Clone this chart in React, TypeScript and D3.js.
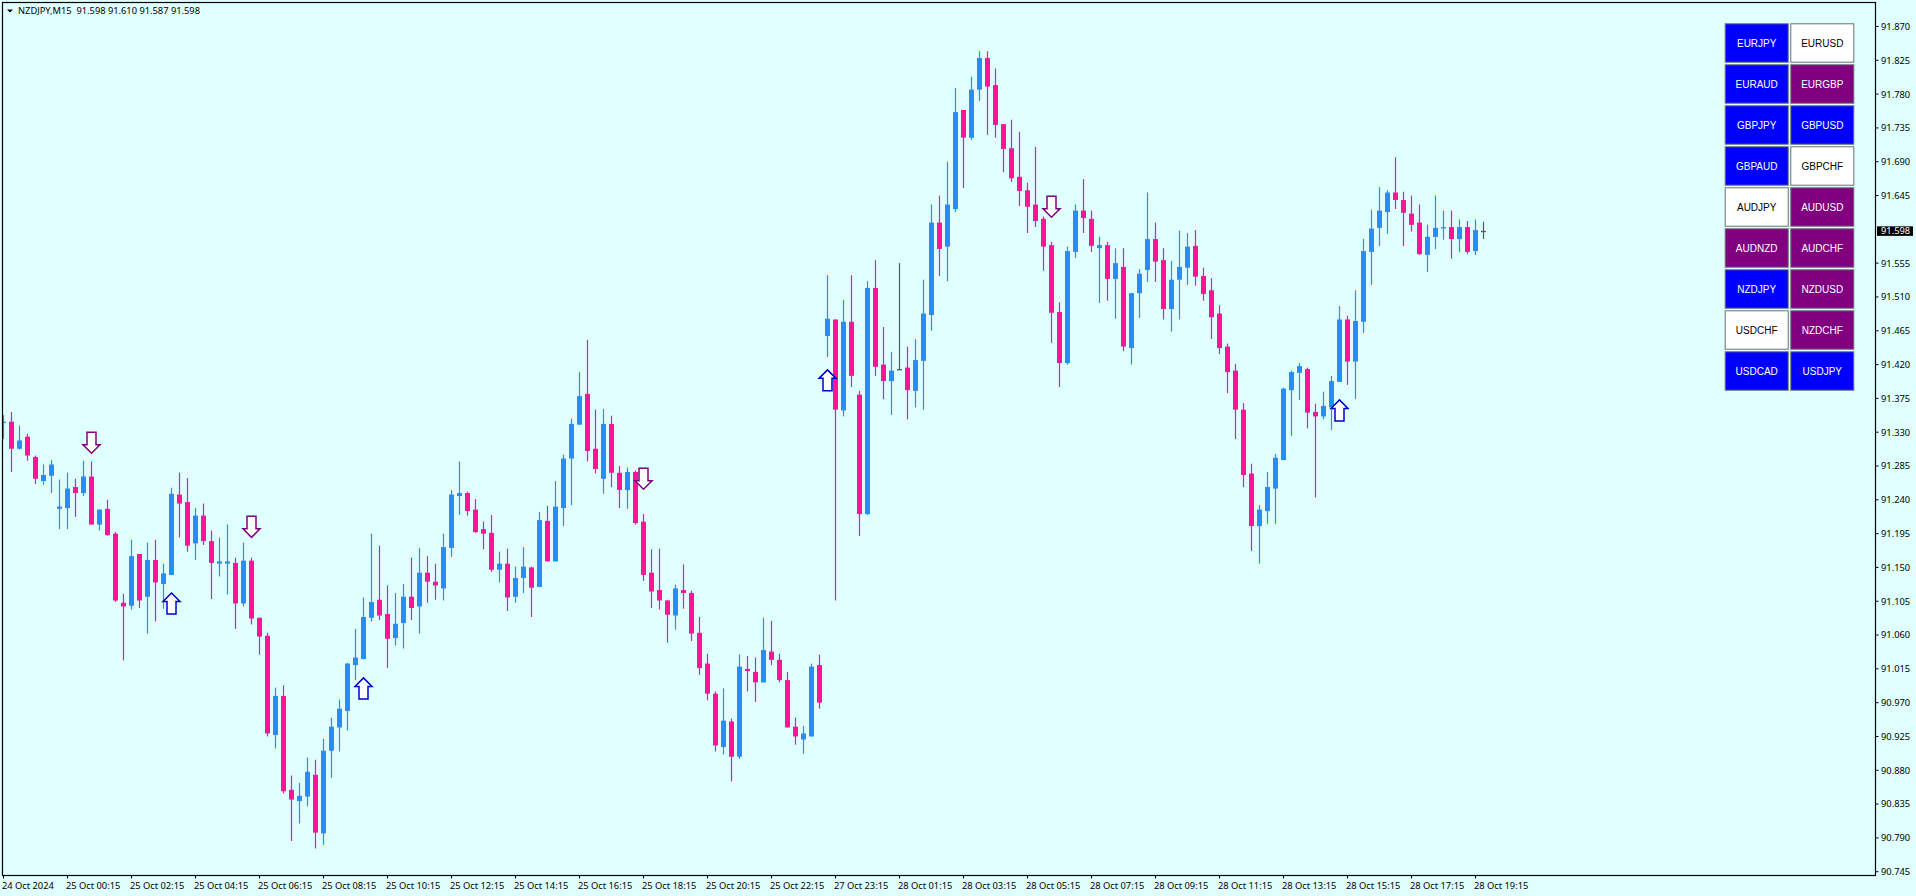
import * as d3 from "d3";

const opens = [
  91.343, 91.344, 91.308, 91.324, 91.297, 91.265, 91.272, 91.228, 91.229, 91.257,
  91.249, 91.271, 91.207, 91.228, 91.195, 91.103, 91.099, 91.168, 91.111, 91.160,
  91.128, 91.140, 91.247, 91.237, 91.182, 91.219, 91.185, 91.155, 91.155, 91.156,
  91.102, 91.159, 91.083, 91.059, 90.927, 90.979, 90.854, 90.839, 90.845, 90.874,
  90.796, 90.906, 90.937, 90.959, 91.020, 91.028, 91.083, 91.107, 91.088, 91.056,
  91.076, 91.111, 91.098, 91.143, 91.131, 91.122, 91.176, 91.245, 91.249, 91.227,
  91.201, 91.196, 91.147, 91.155, 91.111, 91.136, 91.150, 91.124, 91.212, 91.158,
  91.229, 91.295, 91.340, 91.381, 91.308, 91.268, 91.341, 91.276, 91.253, 91.277,
  91.211, 91.143, 91.120, 91.106, 91.086, 91.120, 91.116, 91.063, 91.022, 90.982,
  90.911, 90.945, 90.898, 91.015, 91.011, 90.997, 91.038, 91.027, 91.000, 90.938,
  90.921, 90.925, 91.020, 91.458, 91.480, 91.359, 91.477, 91.380, 91.221, 91.522,
  91.420, 91.398, 91.414, 91.416, 91.385, 91.425, 91.486, 91.609, 91.577, 91.627,
  91.759, 91.722, 91.786, 91.828, 91.792, 91.740, 91.708, 91.670, 91.652, 91.633,
  91.614, 91.579, 91.490, 91.422, 91.570, 91.625, 91.614, 91.575, 91.579, 91.534,
  91.550, 91.442, 91.515, 91.546, 91.587, 91.559, 91.494, 91.533, 91.549, 91.578,
  91.538, 91.519, 91.488, 91.444, 91.412, 91.360, 91.275, 91.205, 91.225, 91.255,
  91.293, 91.386, 91.409, 91.414, 91.357, 91.351, 91.363, 91.397, 91.480, 91.424,
  91.477, 91.570, 91.602, 91.623, 91.649, 91.639, 91.621, 91.609, 91.566, 91.590,
  91.602, 91.603, 91.587, 91.603, 91.571, 91.598,
];

const highs = [
  91.353, 91.357, 91.339, 91.328, 91.299, 91.287, 91.293, 91.267, 91.276, 91.268,
  91.292, 91.291, 91.227, 91.240, 91.197, 91.115, 91.187, 91.168, 91.183, 91.187,
  91.155, 91.256, 91.276, 91.269, 91.229, 91.235, 91.199, 91.190, 91.207, 91.163,
  91.183, 91.163, 91.083, 91.063, 90.990, 90.993, 90.873, 90.863, 90.897, 90.894,
  90.922, 90.950, 90.974, 91.023, 91.068, 91.110, 91.195, 91.179, 91.126, 91.116,
  91.128, 91.163, 91.176, 91.165, 91.155, 91.195, 91.253, 91.291, 91.251, 91.241,
  91.211, 91.220, 91.171, 91.175, 91.151, 91.177, 91.151, 91.224, 91.232, 91.265,
  91.300, 91.348, 91.410, 91.453, 91.360, 91.361, 91.352, 91.285, 91.283, 91.279,
  91.221, 91.174, 91.175, 91.107, 91.127, 91.154, 91.119, 91.084, 91.035, 90.985,
  90.989, 90.949, 91.034, 91.032, 91.030, 91.083, 91.079, 91.035, 91.011, 90.950,
  90.939, 91.022, 91.034, 91.539, 91.480, 91.506, 91.539, 91.385, 91.531, 91.559,
  91.470, 91.437, 91.555, 91.444, 91.454, 91.533, 91.633, 91.645, 91.690, 91.788,
  91.759, 91.803, 91.837, 91.837, 91.814, 91.740, 91.746, 91.730, 91.662, 91.710,
  91.617, 91.583, 91.503, 91.577, 91.633, 91.667, 91.625, 91.590, 91.583, 91.575,
  91.575, 91.515, 91.547, 91.649, 91.609, 91.575, 91.558, 91.598, 91.595, 91.599,
  91.549, 91.535, 91.499, 91.448, 91.421, 91.369, 91.288, 91.233, 91.277, 91.301,
  91.389, 91.412, 91.422, 91.416, 91.368, 91.384, 91.405, 91.498, 91.485, 91.519,
  91.587, 91.626, 91.656, 91.652, 91.696, 91.650, 91.645, 91.633, 91.606, 91.645,
  91.625, 91.625, 91.613, 91.611, 91.613, 91.610,
];

const lows = [
  91.321, 91.277, 91.307, 91.292, 91.261, 91.260, 91.249, 91.201, 91.201, 91.217,
  91.245, 91.207, 91.199, 91.192, 91.104, 91.026, 91.094, 91.096, 91.062, 91.078,
  91.095, 91.140, 91.190, 91.171, 91.160, 91.180, 91.108, 91.138, 91.114, 91.068,
  91.098, 91.074, 91.034, 90.925, 90.909, 90.849, 90.786, 90.809, 90.832, 90.776,
  90.781, 90.870, 90.905, 90.933, 91.000, 91.028, 91.078, 91.080, 91.016, 91.046,
  91.042, 91.080, 91.062, 91.103, 91.107, 91.106, 91.164, 91.220, 91.219, 91.196,
  91.174, 91.144, 91.130, 91.092, 91.103, 91.116, 91.084, 91.124, 91.158, 91.158,
  91.205, 91.233, 91.340, 91.291, 91.275, 91.248, 91.257, 91.229, 91.228, 91.207,
  91.132, 91.096, 91.094, 91.050, 91.067, 91.095, 91.052, 91.007, 90.973, 90.905,
  90.901, 90.865, 90.895, 90.985, 90.971, 90.997, 91.020, 90.997, 90.937, 90.914,
  90.902, 90.925, 90.962, 91.430, 91.106, 91.351, 91.390, 91.192, 91.220, 91.405,
  91.374, 91.353, 91.413, 91.347, 91.363, 91.360, 91.465, 91.538, 91.531, 91.623,
  91.655, 91.719, 91.771, 91.726, 91.722, 91.676, 91.663, 91.631, 91.595, 91.603,
  91.545, 91.449, 91.390, 91.420, 91.562, 91.595, 91.570, 91.502, 91.505, 91.481,
  91.438, 91.420, 91.482, 91.530, 91.530, 91.480, 91.464, 91.480, 91.526, 91.525,
  91.505, 91.454, 91.434, 91.382, 91.321, 91.257, 91.172, 91.155, 91.208, 91.208,
  91.293, 91.325, 91.373, 91.335, 91.243, 91.347, 91.333, 91.397, 91.393, 91.374,
  91.462, 91.526, 91.578, 91.594, 91.627, 91.578, 91.597, 91.566, 91.543, 91.574,
  91.586, 91.561, 91.570, 91.567, 91.566, 91.587,
];

const closes = [
  91.344, 91.308, 91.319, 91.299, 91.268, 91.273, 91.287, 91.231, 91.255, 91.249,
  91.271, 91.207, 91.227, 91.193, 91.106, 91.098, 91.165, 91.106, 91.160, 91.130,
  91.142, 91.248, 91.235, 91.179, 91.219, 91.185, 91.156, 91.158, 91.158, 91.102,
  91.159, 91.082, 91.058, 90.929, 90.979, 90.852, 90.841, 90.846, 90.878, 90.797,
  90.906, 90.938, 90.962, 91.022, 91.030, 91.084, 91.104, 91.086, 91.055, 91.075,
  91.111, 91.096, 91.143, 91.131, 91.126, 91.177, 91.247, 91.249, 91.225, 91.197,
  91.195, 91.147, 91.155, 91.110, 91.136, 91.151, 91.123, 91.213, 91.158, 91.231,
  91.295, 91.341, 91.378, 91.305, 91.281, 91.341, 91.276, 91.253, 91.277, 91.209,
  91.140, 91.118, 91.106, 91.087, 91.122, 91.116, 91.062, 91.016, 90.982, 90.913,
  90.946, 90.898, 91.018, 91.012, 90.997, 91.040, 91.027, 91.000, 90.937, 90.925,
  90.929, 91.018, 90.970, 91.481, 91.360, 91.477, 91.405, 91.221, 91.522, 91.417,
  91.398, 91.412, 91.414, 91.386, 91.426, 91.488, 91.609, 91.574, 91.633, 91.756,
  91.722, 91.786, 91.828, 91.790, 91.739, 91.707, 91.668, 91.651, 91.630, 91.611,
  91.577, 91.489, 91.422, 91.571, 91.625, 91.615, 91.578, 91.579, 91.534, 91.555,
  91.444, 91.515, 91.541, 91.587, 91.557, 91.494, 91.533, 91.550, 91.577, 91.537,
  91.514, 91.483, 91.442, 91.410, 91.360, 91.273, 91.205, 91.227, 91.257, 91.296,
  91.388, 91.410, 91.418, 91.356, 91.351, 91.365, 91.398, 91.480, 91.424, 91.478,
  91.571, 91.601, 91.625, 91.649, 91.639, 91.622, 91.606, 91.567, 91.590, 91.602,
  91.603, 91.587, 91.603, 91.570, 91.599, 91.598,
];

const timeLabels = [
  "24 Oct 2024", "25 Oct 00:15", "25 Oct 02:15", "25 Oct 04:15", "25 Oct 06:15", "25 Oct 08:15",
  "25 Oct 10:15", "25 Oct 12:15", "25 Oct 14:15", "25 Oct 16:15", "25 Oct 18:15", "25 Oct 20:15",
  "25 Oct 22:15", "27 Oct 23:15", "28 Oct 01:15", "28 Oct 03:15", "28 Oct 05:15", "28 Oct 07:15",
  "28 Oct 09:15", "28 Oct 11:15", "28 Oct 13:15", "28 Oct 15:15", "28 Oct 17:15", "28 Oct 19:15",
];
const barsPerLabel = 8;

const priceTicks = [
  91.870, 91.825, 91.780, 91.735, 91.690, 91.645, 91.555, 91.510, 91.465, 91.420, 91.375, 91.330, 91.285,
  91.240, 91.195, 91.150, 91.105, 91.060, 91.015, 90.970, 90.925, 90.880, 90.835, 90.790, 90.745,
];
const lastPrice = 91.598;

// signal arrows: bar index + price at arrow centre
const downBars = [11, 31, 80, 131];
const downPrices = [91.316, 91.204, 91.268, 91.630];
const upBars = [21, 45, 103, 167];
const upPrices = [91.102, 90.989, 91.399, 91.359];

const pairsLeft = ["EURJPY", "EURAUD", "GBPJPY", "GBPAUD", "AUDJPY", "AUDNZD", "NZDJPY", "USDCHF", "USDCAD"];
const pairsRight = ["EURUSD", "EURGBP", "GBPUSD", "GBPCHF", "AUDUSD", "AUDCHF", "NZDUSD", "NZDCHF", "USDJPY"];
const stateLeft = ["buy", "buy", "buy", "buy", "none", "sell", "buy", "none", "buy"];
const stateRight = ["none", "sell", "buy", "none", "sell", "sell", "sell", "sell", "buy"];

const W = 1916;
const H = 896;
const frame = { left: 2.5, top: 2.5, right: 1875.5, bottom: 875.5 };

const UP = "#1E90FF";
const DOWN = "#FF1493";
const DOJI = "#4d5a62";
const stateColor: Record<string, string> = { buy: "#0000FF", sell: "#800080", none: "#FFFFFF" };

const x = d3.scaleLinear().domain([0, opens.length - 1]).range([3.5, 1483.5]);
const y = d3.scaleLinear().domain([90.745, 91.87]).range([871.7, 26.5]);

const arrowShape: [number, number][] = [
  [-4.5, -10.5], [4.5, -10.5], [4.5, 2], [8.5, 2], [0, 10.5], [-8.5, 2], [-4.5, 2],
];
const arrowLine = d3.line().curve(d3.curveLinearClosed);

function Arrow({ bar, price, dir }: { bar: number; price: number; dir: number }) {
  const pts = arrowShape.map(([dx, dy]) => [x(bar) + dx, y(price) + dy * dir] as [number, number]);
  return (
    <path
      d={arrowLine(pts) || ""}
      fill="#FFFFFF"
      stroke={dir > 0 ? "#800080" : "#0000CC"}
      strokeWidth={1.5}
    />
  );
}

function App() {
  const axisFont = "'Noto Sans', sans-serif";
  const axisSize = 9.3;
  const bw = 63;
  const bh = 38.4;
  return (
    <svg
      width={W}
      height={H}
      viewBox={`0 0 ${W} ${H}`}
      style={{ position: "absolute", left: 0, top: 0, background: "#E0FFFF" }}
    >
      <defs>
        <clipPath id="plot">
          <rect x={frame.left} y={frame.top} width={frame.right - frame.left} height={frame.bottom - frame.top} />
        </clipPath>
      </defs>
      <rect width={W} height={H} fill="#E0FFFF" />

      <g clipPath="url(#plot)">
        {opens.map((o, i) => {
          const c = closes[i];
          const color = o === c ? DOJI : c > o ? UP : DOWN;
          const top = y(Math.max(o, c));
          const bottom = y(Math.min(o, c));
          return (
            <g key={i}>
              <line x1={x(i)} x2={x(i)} y1={y(highs[i])} y2={y(lows[i])} stroke={color} strokeWidth={1.2} />
              <rect x={x(i) - 2.5} y={top} width={5} height={Math.max(bottom - top, 1.3)} fill={color} />
            </g>
          );
        })}
        {downBars.map((b, i) => (
          <Arrow key={"d" + i} bar={b} price={downPrices[i]} dir={1} />
        ))}
        {upBars.map((b, i) => (
          <Arrow key={"u" + i} bar={b} price={upPrices[i]} dir={-1} />
        ))}
      </g>

      <rect
        x={frame.left}
        y={frame.top}
        width={frame.right - frame.left}
        height={frame.bottom - frame.top}
        fill="none"
        stroke="#000"
        strokeWidth={1.2}
      />

      {/* price axis */}
      {priceTicks.map((p) => (
        <g key={p}>
          <line x1={frame.right} x2={frame.right + 3} y1={y(p)} y2={y(p)} stroke="#000" />
          <text x={1881} y={y(p) + 3.4} fontSize={axisSize} fontFamily={axisFont} fill="#000">
            {p.toFixed(3)}
          </text>
        </g>
      ))}
      <rect x={1877} y={y(lastPrice) - 4.5} width={36} height={9.5} fill="#000" />
      <text x={1881} y={y(lastPrice) + 3.4} fontSize={axisSize} fontFamily={axisFont} fill="#fff">
        {lastPrice.toFixed(3)}
      </text>

      {/* time axis */}
      {timeLabels.map((t, i) => (
        <g key={t}>
          <line
            x1={x(i * barsPerLabel)}
            x2={x(i * barsPerLabel)}
            y1={frame.bottom}
            y2={frame.bottom + 3}
            stroke="#000"
          />
          <text x={x(i * barsPerLabel) - 1.5} y={888.5} fontSize={axisSize} fontFamily={axisFont} fill="#000">
            {t}
          </text>
        </g>
      ))}

      {/* header */}
      <path d="M7 9.5 L13 9.5 L10 12.5 Z" fill="#000" />
      <text x={18} y={14} fontSize={axisSize} fontFamily={axisFont} fill="#000" xmlSpace="preserve">
        {"NZDJPY,M15  91.598 91.610 91.587 91.598"}
      </text>

      {/* pair buttons */}
      {[pairsLeft, pairsRight].map((col, ci) =>
        col.map((name, ri) => {
          const state = (ci === 0 ? stateLeft : stateRight)[ri];
          const bx = 1725.2 + ci * 65.6;
          const by = 23.8 + ri * 41;
          return (
            <g key={name}>
              <rect x={bx} y={by} width={bw} height={bh} fill={stateColor[state]} stroke="#6e6e6e" strokeWidth={1} />
              <text
                x={bx + bw / 2}
                y={by + bh / 2 + 3.6}
                textAnchor="middle"
                fontSize={10}
                fontFamily="'Liberation Sans', Arial, sans-serif"
                fill={state === "none" ? "#000" : "#fff"}
              >
                {name}
              </text>
            </g>
          );
        })
      )}
    </svg>
  );
}

export default App;
